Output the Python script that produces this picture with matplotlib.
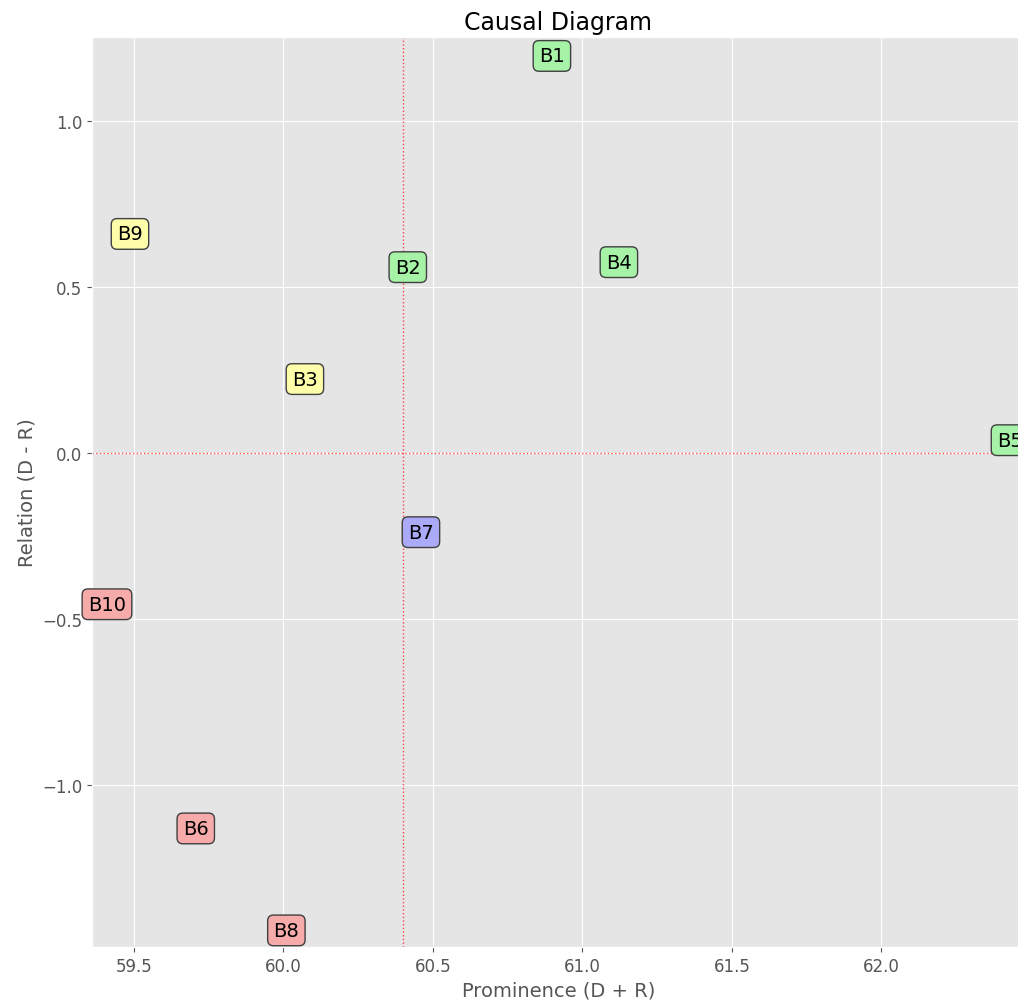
import matplotlib
matplotlib.use("Agg")
import matplotlib.pyplot as plt
import numpy as np

labels = ["B1", "B2", "B3", "B4", "B5", "B6", "B7", "B8", "B9", "B10"]
prominence = [60.898, 60.416, 60.072, 61.122, 62.43, 59.707, 60.46, 60.01, 59.487, 59.41]
relation = [1.196, 0.560, 0.223, 0.575, 0.039, -1.130, -0.238, -1.437, 0.660, -0.455]

plt.style.use("ggplot")

x = np.array(prominence)
y = np.array(relation)
x_mean = x.mean()

fig = plt.figure(figsize=(10.18, 10.03), dpi=100)
ax = fig.add_axes([92 / 1018, 55 / 1003, 933 / 1018, 910 / 1003])

# quadrant colours
def box_color(xi, yi):
    if yi >= 0 and xi >= x_mean:
        return "#a6f2a6"
    if yi >= 0:
        return "#fdfdaa"
    if xi >= x_mean:
        return "#aaaaf8"
    return "#f6aaaa"

for lab, xi, yi in zip(labels, x, y):
    ax.text(xi, yi, lab, fontsize=14, ha="center", va="center", color="black",
            bbox=dict(boxstyle="round,pad=0.3", facecolor=box_color(xi, yi),
                      edgecolor="#404040", linewidth=1.0))

ax.axvline(x_mean, color="red", linestyle=":", linewidth=1, alpha=0.7)
ax.axhline(0, color="red", linestyle=":", linewidth=1, alpha=0.7)

ax.set_xlim(x.min() - 0.05, x.max() + 0.05)
ax.set_ylim(y.min() - 0.05, y.max() + 0.057)
ax.set_xticks([59.5, 60.0, 60.5, 61.0, 61.5, 62.0])
ax.set_yticks([-1.0, -0.5, 0.0, 0.5, 1.0])
ax.tick_params(labelsize=12)

ax.set_title("Causal Diagram", fontsize=17, color="black")
ax.set_xlabel("Prominence (D + R)", fontsize=14)
ax.set_ylabel("Relation (D - R)", fontsize=14)

fig.savefig("out.png", dpi=100)
